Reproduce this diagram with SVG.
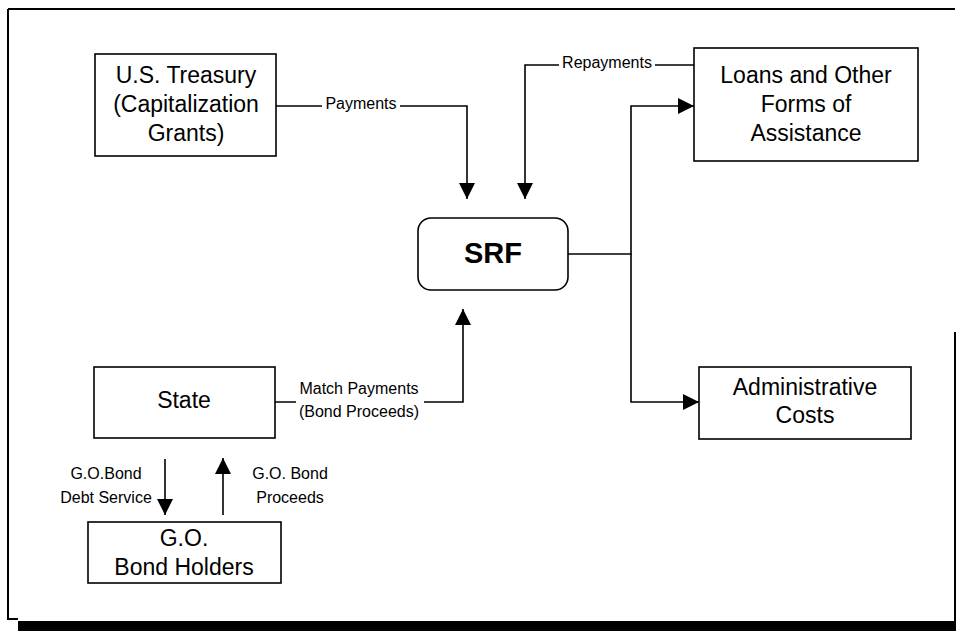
<svg xmlns="http://www.w3.org/2000/svg" width="956" height="631" viewBox="0 0 956 631">
<style>
.box{fill:#fff;stroke:#000;stroke-width:1.6}
.t{font-family:"Liberation Sans",Arial,sans-serif;font-size:23px;fill:#000;text-anchor:middle}
.b{font-weight:bold;font-size:29px}
.l{font-family:"Liberation Sans",Arial,sans-serif;font-size:16px;fill:#000;text-anchor:middle}
.c{fill:none;stroke:#000;stroke-width:1.6}
.bg{fill:#fff}
</style>
<defs>
<marker id="ah" viewBox="0 0 16 16" refX="16" refY="8" markerWidth="16" markerHeight="16" markerUnits="userSpaceOnUse" orient="auto">
<path d="M0,0 L16,8 L0,16 z" fill="#000"/>
</marker>
</defs>
<rect width="956" height="631" fill="#fff"/>
<g id="frame">
<path d="M8,9 H955 M8,9 V619 H18 M955,332 V621" fill="none" stroke="#000" stroke-width="2"/>
<rect x="18" y="621" width="938" height="10" fill="#000"/>
</g>
<g id="connectors">
<path class="c" d="M276,106 H467 V199" marker-end="url(#ah)"/>
<rect class="bg" x="322" y="96" width="78" height="17"/>
<text class="l" x="361" y="109">Payments</text>
<path class="c" d="M694,65 H525 V199" marker-end="url(#ah)"/>
<rect class="bg" x="559" y="55" width="96" height="17"/>
<text class="l" x="607" y="68">Repayments</text>
<path class="c" d="M568,254 H631 V106 H694" marker-end="url(#ah)"/>
<path class="c" d="M631,254 V402 H699" marker-end="url(#ah)"/>
<path class="c" d="M275,402 H463 V309" marker-end="url(#ah)"/>
<rect class="bg" x="296" y="376" width="128" height="46"/>
<text class="l" x="359" y="394">Match Payments</text>
<text class="l" x="359" y="417">(Bond Proceeds)</text>
<path class="c" d="M165,459 V515" marker-end="url(#ah)"/>
<text class="l" x="106" y="479">G.O.Bond</text>
<text class="l" x="106" y="503">Debt Service</text>
<path class="c" d="M223,515 V458" marker-end="url(#ah)"/>
<text class="l" x="290" y="479">G.O. Bond</text>
<text class="l" x="290" y="503">Proceeds</text>
</g>
<g id="treasury">
<rect class="box" x="95" y="54" width="181" height="102"/>
<text class="t" x="186" y="83">U.S. Treasury</text>
<text class="t" x="186" y="112">(Capitalization</text>
<text class="t" x="186" y="141">Grants)</text>
</g>
<g id="srf">
<rect class="box" x="418" y="218" width="150" height="72" rx="13"/>
<text class="t b" x="493" y="263">SRF</text>
</g>
<g id="loans">
<rect class="box" x="694" y="48" width="224" height="113"/>
<text class="t" x="806" y="83">Loans and Other</text>
<text class="t" x="806" y="112">Forms of</text>
<text class="t" x="806" y="141">Assistance</text>
</g>
<g id="admin">
<rect class="box" x="699" y="367" width="212" height="72"/>
<text class="t" x="805" y="395">Administrative</text>
<text class="t" x="805" y="423">Costs</text>
</g>
<g id="state">
<rect class="box" x="94" y="367" width="181" height="71"/>
<text class="t" x="184" y="408">State</text>
</g>
<g id="bondholders">
<rect class="box" x="88" y="522" width="193" height="61"/>
<text class="t" x="184" y="546">G.O.</text>
<text class="t" x="184" y="575">Bond Holders</text>
</g>
</svg>
